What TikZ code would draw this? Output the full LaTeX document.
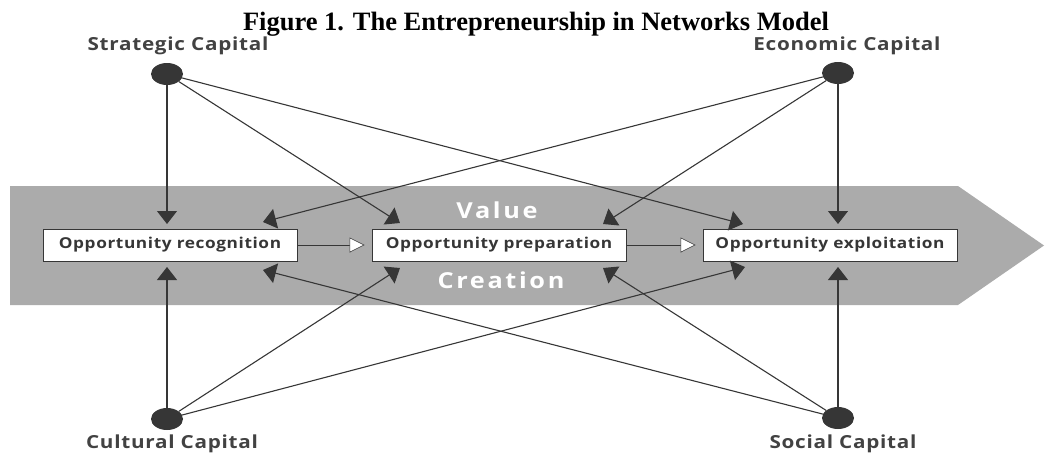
\documentclass[tikz,border=0pt]{standalone}
\usepackage{fontspec}
\setmainfont{Liberation Serif}
\newfontfamily\labfont[FakeStretch=1.15,LetterSpace=4]{Open Sans}
\newfontfamily\bandfont[FakeStretch=1.15,LetterSpace=12]{Open Sans}
\usetikzlibrary{arrows.meta,shapes.geometric}
\definecolor{ink}{HTML}{363636}
\definecolor{band}{HTML}{ABABAB}
\definecolor{labgray}{HTML}{424242}
\tikzset{
  capnode/.style={ellipse,fill=ink,minimum width=32pt,minimum height=22pt,inner sep=0pt},
  caplabel/.style={text=labgray,font=\labfont\bfseries\fontsize{18}{20}\selectfont,inner sep=0pt,anchor=base},
  oppbox/.style={draw=ink,line width=0.8pt,fill=white,minimum width=254pt,minimum height=32pt,inner sep=0pt,text=ink,font=\labfont\bfseries\fontsize{15}{17}\selectfont},
  link/.style={draw=ink,line width=1.1pt,-{Triangle[width=20pt,length=13pt]}},
  seq/.style={draw=ink,line width=1pt,-{Triangle[width=15pt,length=15pt,fill=white,line width=0.6pt]},shorten >=7pt},
  bandtext/.style={text=white,font=\bandfont\bfseries\fontsize{22}{24}\selectfont,inner sep=0pt,anchor=base}
}
\begin{document}
\begin{tikzpicture}[x=1pt,y=-1pt]
\useasboundingbox (0,0) rectangle (1046,453);
% band
\fill[band] (10,186) -- (958,186) -- (1044,245.5) -- (958,305) -- (10,305) -- cycle;
% title
\node[anchor=base,inner sep=0pt,font=\bfseries\fontsize{26.5}{30}\selectfont] (title) at (536,30) {Figure 1. The Entrepreneurship in Networks Model};
% band text
\node[bandtext] (value) at (497,218) {Value};
\node[bandtext] (creation) at (501,288) {Creation};
% boxes
\node[oppbox] (recog) at (170,245) {Opportunity recognition};
\node[oppbox] (prep) at (499,245) {Opportunity preparation};
\node[oppbox] (expl) at (830,245) {Opportunity exploitation};
% capitals
\node[capnode] (strat) at (167,74) {};
\node[capnode] (econ) at (838,73) {};
\node[capnode] (cult) at (167,419) {};
\node[capnode] (soc) at (838,418) {};
\node[caplabel] (stratl) at (178,50) {Strategic Capital};
\node[caplabel] (econl) at (847,50) {Economic Capital};
\node[caplabel] (cultl) at (172,448) {Cultural Capital};
\node[caplabel] (socl) at (843,448) {Social Capital};
% arrow end points
\coordinate (rt1) at (167,224);
\coordinate (rt2) at (263,222);
\coordinate (rb1) at (167,267);
\coordinate (rb2) at (263,270);
\coordinate (pt1) at (400,223);
\coordinate (pt2) at (603,224);
\coordinate (pb1) at (400,268);
\coordinate (pb2) at (603,268);
\coordinate (et1) at (743,224);
\coordinate (et2) at (838,224);
\coordinate (eb1) at (745,267);
\coordinate (eb2) at (838,267);
% links
\draw[link] (strat) -- (rt1);
\draw[link] (strat) -- (pt1);
\draw[link] (strat) -- (et1);
\draw[link] (econ) -- (et2);
\draw[link] (econ) -- (pt2);
\draw[link] (econ) -- (rt2);
\draw[link] (cult) -- (rb1);
\draw[link] (cult) -- (pb1);
\draw[link] (cult) -- (eb1);
\draw[link] (soc) -- (eb2);
\draw[link] (soc) -- (pb2);
\draw[link] (soc) -- (rb2);
% sequence
\draw[seq] (recog.east) -- (prep.west);
\draw[seq] (prep.east) -- (expl.west);
\end{tikzpicture}
\end{document}
